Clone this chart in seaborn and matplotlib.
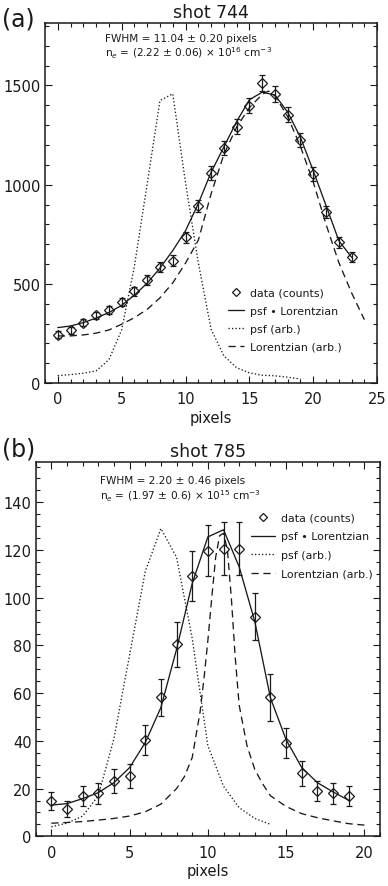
import numpy as np
import pandas as pd
import seaborn as sns
import matplotlib.pyplot as plt
from matplotlib.lines import Line2D
from matplotlib.ticker import MultipleLocator

# ---- shot 744 (panel a) ----
pix_a = list(range(24))
counts_a = [245, 267, 305, 342, 368, 408, 462, 522, 585, 618, 735, 893, 1058, 1185, 1293, 1399,
            1511, 1458, 1353, 1226, 1054, 864, 710, 634]
err_a = [16, 17, 18, 19, 20, 21, 23, 25, 27, 27, 29, 32, 35, 36, 37, 38, 40, 40, 38, 36, 34, 31, 28, 26]
fit_a = [280, 288, 305, 328, 356, 392, 444, 504, 580, 668, 768, 905, 1062, 1190, 1318, 1428,
         1466, 1452, 1365, 1238, 1070, 895, 718, 634]
psf_x_a = list(range(20))
psf_a = [38, 43, 50, 62, 118, 268, 590, 1005, 1424, 1458, 1010, 607, 272, 138, 78, 52, 40, 37, 30, 21]
lor_x_a = [0, 1, 2, 3, 4, 5, 6, 7, 8, 9, 10, 11, 12, 13, 14, 15, 16, 16.5, 17, 18, 19, 20, 21, 22, 23, 24]
lor_a = [238, 238, 243, 252, 268, 297, 330, 372, 430, 505, 605, 720, 953, 1152, 1290, 1388, 1455,
         1472, 1448, 1343, 1192, 1013, 800, 608, 455, 320]

# ---- shot 785 (panel b) ----
pix_b = list(range(20))
counts_b = [14.8, 11.6, 16.9, 18.0, 23.2, 25.3, 40.3, 58.2, 80.5, 109.1, 119.8, 120.6, 120.6, 92.1,
            58.2, 39.0, 26.4, 19.0, 18.0, 16.9]
err_b = [3.8, 3.3, 4.2, 4.3, 5.0, 5.0, 6.3, 7.7, 9.5, 10.5, 10.8, 11.0, 11.0, 10.0, 10.0, 6.3, 5.2,
         4.3, 4.5, 4.2]
fit_b = [13.1, 13.7, 15.8, 18.3, 22.5, 28.8, 39.3, 54.0, 78.4, 106, 125.5, 128.5, 113, 90, 58,
         40.5, 28.8, 22.5, 18.6, 15.1]
psf_x_b = list(range(15))
psf_b = [4, 5.5, 8.5, 17, 41, 76, 111, 129, 117, 83, 38, 21, 12, 7.5, 5]
lor_x_b = [0, 1, 2, 3, 4, 5, 6, 7, 8, 8.5, 9, 9.5, 9.75, 10, 10.25, 10.5, 10.75, 11, 11.25, 11.5,
           11.75, 12, 12.5, 13, 13.5, 14, 15, 16, 17, 18, 19, 20]
lor_b = [5.5, 5.8, 6.2, 6.8, 7.5, 8.5, 10.3, 13.5, 20, 25, 33, 52, 66, 82, 100, 117, 126, 127, 120,
         100, 75, 55, 38, 28, 22, 17, 12.5, 9.5, 7.8, 6.5, 5.3, 4.7]

labels = ["data (counts)", "psf \u2022 Lorentzian", "psf (arb.)", "Lorentzian (arb.)"]

sns.set_theme(style="ticks")
plt.rcParams['font.family'] = ['DejaVu Sans']
plt.rcParams['mathtext.fontset'] = 'dejavusans'
plt.rcParams['text.color'] = 'black'
plt.rcParams['axes.labelcolor'] = 'black'

LW = 0.95
DASH = (0, (5.5, 3.5))


def panel(ax, px, counts, err, fit, psf_x, psf, lor_x, lor):
    sns.lineplot(x=px, y=fit, ax=ax, color='k', lw=LW, sort=False, estimator=None)
    sns.lineplot(x=psf_x, y=psf, ax=ax, color='k', lw=LW, linestyle=':', sort=False, estimator=None)
    sns.lineplot(x=lor_x, y=lor, ax=ax, color='k', lw=LW, linestyle=DASH, sort=False, estimator=None)
    ax.errorbar(px, counts, yerr=err, fmt='D', ms=5, mfc='none', mec='k', mew=0.9,
                ecolor='k', elinewidth=0.9, capsize=2, capthick=0.9)
    for s in ax.spines.values():
        s.set_linewidth(1.1)
        s.set_color('k')
    ax.tick_params(which='both', direction='in', top=True, right=True, width=0.8,
                   colors='k', labelsize=10.5)
    ax.tick_params(which='major', length=5)
    ax.tick_params(which='minor', length=2.8)
    ax.tick_params(axis='x', pad=6)
    ax.tick_params(axis='y', pad=3)
    ax.set_xlabel('pixels', fontsize=10.5, labelpad=2.5, color='k')
    ax.set_ylabel('')


def add_legend(ax, anchor, hl, spacing):
    handles = [Line2D([], [], ls='none', marker='D', ms=4.5, mfc='none', mec='k', mew=0.9),
               Line2D([], [], color='k', lw=LW),
               Line2D([], [], color='k', lw=LW, ls=':'),
               Line2D([], [], color='k', lw=LW, ls=DASH)]
    leg = ax.legend(handles, labels, loc='upper left', bbox_to_anchor=anchor, frameon=False,
                    fontsize=7.9, borderpad=0, borderaxespad=0, handlelength=hl,
                    handletextpad=0.55, labelspacing=spacing)
    for t in leg.get_texts():
        t.set_color('k')


fig = plt.figure(figsize=(3.88, 8.87), dpi=100)

ax1 = fig.add_axes([0.116, 0.5669, 0.856, 0.4061])
panel(ax1, pix_a, counts_a, err_a, fit_a, psf_x_a, psf_a, lor_x_a, lor_a)
ax1.set_xlim(-1, 25)
ax1.set_ylim(0, 1815)
ax1.xaxis.set_major_locator(MultipleLocator(5))
ax1.xaxis.set_minor_locator(MultipleLocator(1))
ax1.yaxis.set_major_locator(MultipleLocator(500))
ax1.yaxis.set_minor_locator(MultipleLocator(100))
ax1.set_title('shot 744', fontsize=12.5, pad=4, color='k')
ax1.text(0.181, 0.958, 'FWHM = 11.04 \u00b1 0.20 pixels', transform=ax1.transAxes,
         fontsize=7.6, va='center', ha='left', color='k')
ax1.text(0.181, 0.919, r'n$_e$ = (2.22 $\pm$ 0.06) $\times$ 10$^{16}$ cm$^{-3}$',
         transform=ax1.transAxes, fontsize=7.6, va='center', ha='left', color='k')
add_legend(ax1, (0.551, 0.265), 1.45, 0.72)

ax2 = fig.add_axes([0.092, 0.0560, 0.8874, 0.4223])
panel(ax2, pix_b, counts_b, err_b, fit_b, psf_x_b, psf_b, lor_x_b, lor_b)
ax2.set_xlim(-1, 21)
ax2.set_ylim(0, 157)
ax2.xaxis.set_major_locator(MultipleLocator(5))
ax2.xaxis.set_minor_locator(MultipleLocator(1))
ax2.yaxis.set_major_locator(MultipleLocator(20))
ax2.yaxis.set_minor_locator(MultipleLocator(5))
ax2.set_title('shot 785', fontsize=12.5, pad=4, color='k')
ax2.text(0.187, 0.951, 'FWHM = 2.20 \u00b1 0.46 pixels', transform=ax2.transAxes,
         fontsize=7.6, va='center', ha='left', color='k')
ax2.text(0.187, 0.911, r'n$_e$ = (1.97 $\pm$ 0.6) $\times$ 10$^{15}$ cm$^{-3}$',
         transform=ax2.transAxes, fontsize=7.6, va='center', ha='left', color='k')
add_legend(ax2, (0.6245, 0.8637), 2.25, 0.78)

fig.text(0.004, 1 - 19 / 887, '(a)', fontsize=17, va='center', ha='left', color='k')
fig.text(0.006, 1 - 450 / 887, '(b)', fontsize=17, va='center', ha='left', color='k')

fig.savefig('out.png', dpi=100)
